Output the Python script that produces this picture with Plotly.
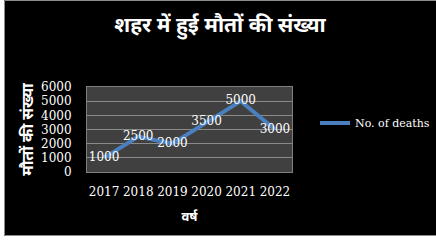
import plotly.graph_objects as go

years = ["2017", "2018", "2019", "2020", "2021", "2022"]
deaths = [1000, 2500, 2000, 3500, 5000, 3000]
y_ticks = [0, 1000, 2000, 3000, 4000, 5000, 6000]

title_text = "शहर में हुई मौतों की संख्या"
x_title = "वर्ष"
y_title = "मौतों की संख्या"
series_name = "No. of deaths"

W, H = 436, 242
L, R, T, B = 87, 144, 87, 70
pw, ph = W - L - R, H - T - B

def px_x(p):
    return (p - L) / pw

def px_y(p):
    return (H - B - p) / ph

serif = "DejaVu Serif"
deva = "Noto Sans Devanagari, Noto Sans, sans-serif"

fig = go.Figure()
fig.add_trace(go.Scatter(
    x=years, y=deaths, mode="lines+text", name=series_name,
    line=dict(color="#4a7fc0", width=4),
    text=[str(v) for v in deaths], textposition="middle center",
    textfont=dict(family=serif, size=12, color="white"),
))

fig.update_layout(
    width=W, height=H,
    margin=dict(l=L, r=R, t=T, b=B, autoexpand=False),
    paper_bgcolor="black", plot_bgcolor="#404040",
    title=dict(text="<b>" + title_text + "</b>", x=px_x(220), xref="paper", xanchor="center",
               y=1 - 25 / H, yanchor="middle", font=dict(family=deva, size=21, color="white")),
    showlegend=True,
    legend=dict(x=px_x(315), y=px_y(123), xanchor="left", yanchor="middle",
                font=dict(family=serif, size=11, color="white"), bgcolor="rgba(0,0,0,0)"),
    xaxis=dict(type="category", range=[-0.5, 5.5], showgrid=False, zeroline=False, automargin=False,
               showline=True, linecolor="#7f7f7f", mirror=True, ticks="", tickangle=0,
               tickfont=dict(family=serif, size=12, color="white"), ticklabelstandoff=9,
               title=dict(text="<b>" + x_title + "</b>", font=dict(family=deva, size=13, color="white"), standoff=13)),
    yaxis=dict(range=[0, 6000], tickvals=y_ticks, showgrid=True, gridcolor="#8a8a8a", gridwidth=1,
               zeroline=False, showline=True, linecolor="#7f7f7f", mirror=True, ticks="", automargin=False,
               tickfont=dict(family=serif, size=12, color="white"), ticklabelstandoff=12,
               title=dict(text="<b>" + y_title + "</b>", font=dict(family=deva, size=16, color="white"), standoff=3)),
)

# outer white margins and gray frame of the original image
fig.add_shape(type="rect", xref="paper", yref="paper", x0=px_x(-2), x1=px_x(4), y0=px_y(-2), y1=px_y(H + 2),
              fillcolor="white", line_width=0, layer="above")
fig.add_shape(type="rect", xref="paper", yref="paper", x0=px_x(-2), x1=px_x(W + 2), y0=px_y(236), y1=px_y(H + 2),
              fillcolor="white", line_width=0, layer="above")
fig.add_shape(type="rect", xref="paper", yref="paper", x0=px_x(4.5), x1=px_x(W + 5), y0=px_y(235.5), y1=px_y(0.5),
              fillcolor="rgba(0,0,0,0)", line=dict(color="#8c8c8c", width=1), layer="above")

fig.write_html("out.html", config={"displayModeBar": False},
               post_script="document.body.style.margin='0';document.body.style.overflow='hidden';")
